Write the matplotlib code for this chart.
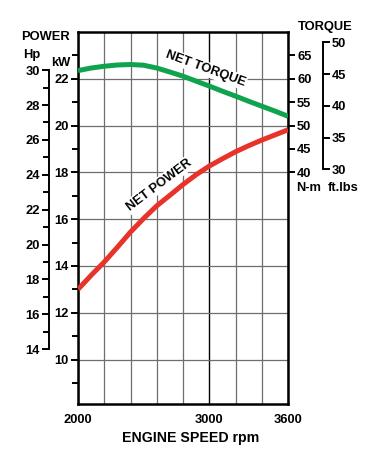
import matplotlib
matplotlib.use("Agg")
import matplotlib.pyplot as plt

plt.rcParams['font.family'] = ['Liberation Sans', 'DejaVu Sans']
plt.rcParams['font.weight'] = 'bold'

# ---- data ----
rpm = [2000, 2100, 2200, 2300, 2400, 2500, 2600, 2700, 2800, 2900,
       3000, 3100, 3200, 3300, 3400, 3500, 3600]
power_kw = [13.00, 13.60, 14.17, 14.80, 15.45, 16.03, 16.57, 17.02, 17.48,
            17.90, 18.27, 18.58, 18.88, 19.14, 19.38, 19.60, 19.82]
torque_nm = [61.75, 62.30, 62.68, 62.95, 63.05, 62.90, 62.30, 61.45, 60.55,
             59.50, 58.45, 57.35, 56.30, 55.20, 54.15, 53.10, 52.00]

x_labels = [2000, 3000, 3600]
x_grid = [2200, 2400, 2600, 2800, 3200, 3400]
kw_ticks = [10, 12, 14, 16, 18, 20, 22]
kw_minor = [9, 11, 13, 15, 17, 19, 21, 23]
hp_ticks = [14, 16, 18, 20, 22, 24, 26, 28, 30]
hp_minor = [15, 17, 19, 21, 23, 25, 27, 29]
nm_ticks = [40, 45, 50, 55, 60, 65]
ftlb_ticks = [30, 35, 40, 45, 50]

KW_PER_HP = 0.7457
NM_PER_FTLB = 1.3558

W, H = 380, 470
fig = plt.figure(figsize=(W / 100, H / 100), dpi=100)
fig.patch.set_facecolor('white')

L, R, T, B = 78, 288, 32, 404
ax = fig.add_axes([L / W, 1 - B / H, (R - L) / W, (B - T) / H])

kw_lo, kw_hi = 8.1, 24.0
ax.set_xlim(2000, 3600)
ax.set_ylim(kw_lo, kw_hi)

fs = 9.3
# x axis
ax.set_xticks(x_labels)
ax.set_xticks(x_grid, minor=True)
ax.set_xticklabels([str(v) for v in x_labels], fontsize=fs, fontweight='bold')
ax.tick_params(axis='x', which='both', length=0, pad=7)
ax.xaxis.grid(True, which='major', color='black', linewidth=1.0)
ax.xaxis.grid(True, which='minor', color='#6e6e6e', linewidth=0.9)

# kW axis
ax.set_yticks(kw_ticks)
ax.set_yticks(kw_minor, minor=True)
ax.set_yticklabels([str(v) for v in kw_ticks], fontsize=fs, fontweight='bold')
ax.tick_params(axis='y', which='major', direction='out', length=5, width=1.4, pad=1.5)
ax.tick_params(axis='y', which='minor', direction='out', length=4, width=1.4)
ax.yaxis.grid(True, which='major', color='#6e6e6e', linewidth=0.9)
ax.set_axisbelow(True)
for s in ax.spines.values():
    s.set_linewidth(1.8)
    s.set_color('black')

ax.plot(rpm, power_kw, color='#e8332a', linewidth=3.6, solid_capstyle='butt',
        solid_joinstyle='round', zorder=5)

# N-m axis (right spine)
ax_nm = ax.twinx()
nm_lo = 60 + (kw_lo - 22) * 5
nm_hi = 60 + (kw_hi - 22) * 5
ax_nm.set_ylim(nm_lo, nm_hi)
ax_nm.set_yticks(nm_ticks)
ax_nm.set_yticklabels([str(v) for v in nm_ticks], fontsize=fs, fontweight='bold')
ax_nm.tick_params(axis='y', direction='out', length=5, width=1.4, pad=1.5)
for k, s in ax_nm.spines.items():
    s.set_visible(False)
ax_nm.plot(rpm, torque_nm, color='#10a34e', linewidth=3.6, solid_capstyle='butt',
           solid_joinstyle='round', zorder=5)

# Hp axis
ax_hp = ax.twinx()
ax_hp.set_ylim(kw_lo / KW_PER_HP, kw_hi / KW_PER_HP)
ax_hp.yaxis.set_ticks_position('left')
ax_hp.yaxis.set_label_position('left')
for k in ['top', 'bottom', 'right']:
    ax_hp.spines[k].set_visible(False)
ax_hp.spines['left'].set_position(('axes', (49 - L) / (R - L)))
ax_hp.spines['left'].set_bounds(hp_ticks[0], hp_ticks[-1])
ax_hp.spines['left'].set_linewidth(1.4)
ax_hp.set_yticks(hp_ticks)
ax_hp.set_yticks(hp_minor, minor=True)
ax_hp.set_yticklabels([str(v) for v in hp_ticks], fontsize=fs, fontweight='bold')
ax_hp.tick_params(axis='y', which='major', direction='out', length=5, width=1.4, pad=1.5)
ax_hp.tick_params(axis='y', which='minor', direction='out', length=4, width=1.4)

# ft.lbs axis
ax_ft = ax.twinx()
ax_ft.set_ylim(nm_lo / NM_PER_FTLB, nm_hi / NM_PER_FTLB)
for k in ['top', 'bottom', 'left']:
    ax_ft.spines[k].set_visible(False)
ax_ft.spines['right'].set_position(('axes', (322.7 - L) / (R - L)))
ax_ft.spines['right'].set_bounds(ftlb_ticks[0], ftlb_ticks[-1])
ax_ft.spines['right'].set_linewidth(1.4)
ax_ft.set_yticks(ftlb_ticks)
ax_ft.set_yticklabels([str(v) for v in ftlb_ticks], fontsize=fs, fontweight='bold')
ax_ft.tick_params(axis='y', direction='out', length=5, width=1.4, pad=1.5)

# curve labels
bbox = dict(facecolor='white', edgecolor='none', pad=1.0)
ax.text(2617, kw_hi - (185 - T) / (B - T) * (kw_hi - kw_lo), 'NET POWER',
        rotation=37, ha='center', va='center', fontsize=fs, fontweight='bold',
        bbox=bbox, zorder=4, rotation_mode='anchor')
ax.text(2970, kw_hi - (68.7 - T) / (B - T) * (kw_hi - kw_lo), 'NET TORQUE',
        rotation=-20, ha='center', va='center', fontsize=fs, fontweight='bold',
        bbox=bbox, zorder=4, rotation_mode='anchor')

def ftext(x, y, s, ha='left', size=fs):
    fig.text(x / W, 1 - y / H, s, ha=ha, va='center', fontsize=size, fontweight='bold')

ftext(21, 37, 'POWER')
ftext(23, 55, 'Hp')
ftext(51, 63, 'kW')
ftext(298, 27, 'TORQUE')
ftext(296, 188, 'N-m')
ftext(328, 188, 'ft.lbs')
ftext(191, 438, 'ENGINE SPEED rpm', ha='center', size=10.2)

fig.savefig('out.png', dpi=100, facecolor='white')
